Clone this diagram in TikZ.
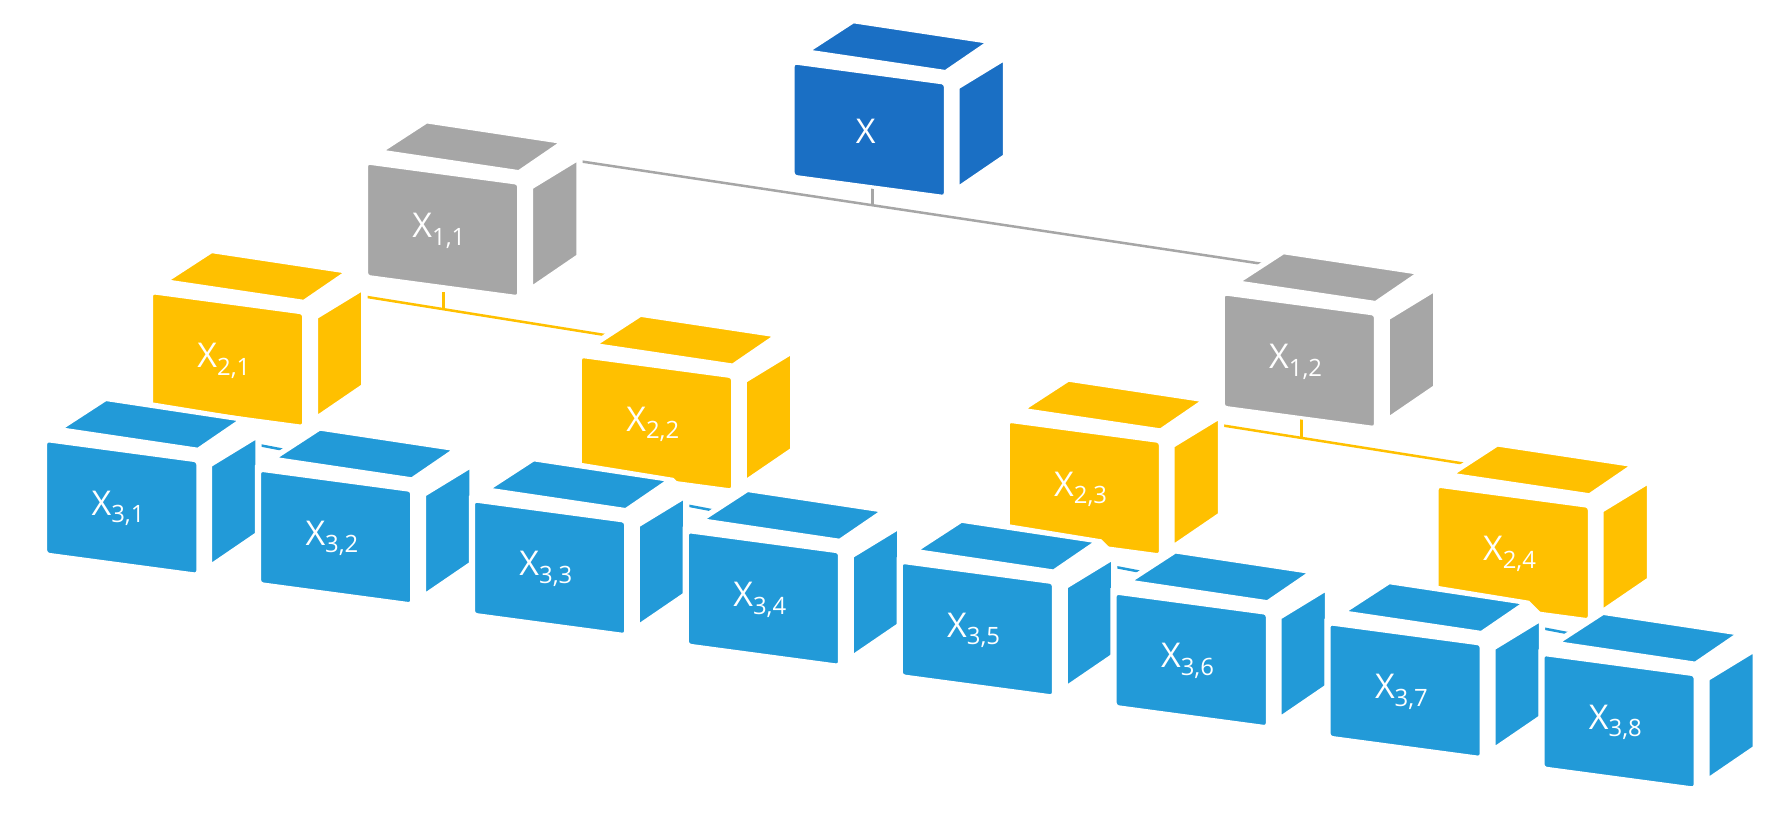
\documentclass[tikz,border=0pt]{standalone}
\usepackage{fontspec}
\setmainfont{Open Sans}
\usetikzlibrary{calc}
\definecolor{cdark}{HTML}{1A6FC4}
\definecolor{cgrey}{HTML}{A6A6A6}
\definecolor{cyel}{HTML}{FFC000}
\definecolor{cblue}{HTML}{229AD8}
\tikzset{
  face/.style={fill=#1, draw=white, line width=3pt, line join=round},
  lab/.style={text=white, font=\fontsize{30}{34}\selectfont, anchor=center},
  link/.style={draw=#1, line width=2.2pt},
}
\newcommand\mycube[5]{%
  \begin{scope}[shift={(#2,#3)}]
    \fill[white] (-4,-4) -- (13,-14) -- (53,-40) -- (176,-20) -- (190,-6) -- (190,86) -- (145,115) -- (-4,104) -- cycle;
    \filldraw[face=#4, rounded corners=3pt] (0,0) -- (134,18) -- (134,118) -- (0,100) -- cycle;
    \filldraw[face=#4] (145,22) -- (186,-3) -- (186,82) -- (145,110) -- cycle;
    \filldraw[face=#4] (13,-10) -- (53,-36) -- (172,-18) -- (134,8) -- cycle;
    \node[lab] (#1) at (64,60) {#5};
    \coordinate (#1-l) at (150,-3);
    \coordinate (#1-r) at (30,-20);
    \coordinate (#1-b) at (70,124);
  \end{scope}}
\begin{document}
\begin{tikzpicture}[x=1pt,y=-1pt]
\useasboundingbox (0,0) rectangle (1568,727);
% connector lines (behind)
\draw[link=cgrey] (485,138) -- (1110,232);
\draw[link=cgrey] (767,165) -- (767,180);
\draw[link=cyel] (285,255) -- (535,295);
\draw[link=cyel] (390,257) -- (390,271);
\draw[link=cyel] (1037,368) -- (1290,408);
\draw[link=cyel] (1144,360) -- (1144,385);
\foreach \x/\y in {40/387,416/440,792/494,1168/548}{
  \draw[link=cblue] (\x+150,\y-3) -- (\x+218,\y+10);
}
\mycube{x}{697}{55}{cdark}{X}
\mycube{x11}{322}{143}{cgrey}{X\textsubscript{1,1}}
\mycube{x12}{1075}{258}{cgrey}{X\textsubscript{1,2}}
\mycube{x21}{133}{257}{cyel}{X\textsubscript{2,1}}
\mycube{x22}{510}{313}{cyel}{X\textsubscript{2,2}}
\mycube{x23}{886}{370}{cyel}{X\textsubscript{2,3}}
\mycube{x24}{1263}{427}{cyel}{X\textsubscript{2,4}}
\mycube{x31}{40}{387}{cblue}{X\textsubscript{3,1}}
\mycube{x32}{228}{413}{cblue}{X\textsubscript{3,2}}
\mycube{x33}{416}{440}{cblue}{X\textsubscript{3,3}}
\mycube{x34}{604}{467}{cblue}{X\textsubscript{3,4}}
\mycube{x35}{792}{494}{cblue}{X\textsubscript{3,5}}
\mycube{x36}{980}{521}{cblue}{X\textsubscript{3,6}}
\mycube{x37}{1168}{548}{cblue}{X\textsubscript{3,7}}
\mycube{x38}{1356}{575}{cblue}{X\textsubscript{3,8}}
\end{tikzpicture}
\end{document}
